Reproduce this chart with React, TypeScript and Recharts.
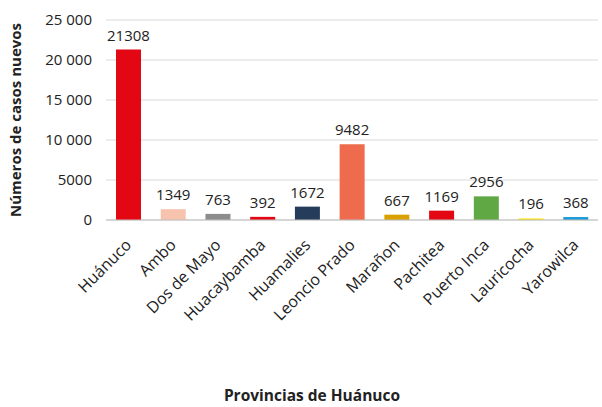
import React from 'react';
import { BarChart, Bar, XAxis, YAxis, CartesianGrid, Cell, LabelList, Label } from 'recharts';

const provincias = ['Huánuco', 'Ambo', 'Dos de Mayo', 'Huacaybamba', 'Huamalies', 'Leoncio Prado', 'Marañon', 'Pachitea', 'Puerto Inca', 'Lauricocha', 'Yarowilca'];
const casos = [21308, 1349, 763, 392, 1672, 9482, 667, 1169, 2956, 196, 368];
const colores = ['#e30613', '#f7c3ae', '#8c8c8c', '#e30613', '#253d5b', '#ee6b4d', '#d9a000', '#e30613', '#60a843', '#ffe600', '#1a9ad6'];
const yTicks = [0, 5000, 10000, 15000, 20000, 25000];

const data = provincias.map((p, i) => ({ provincia: p, casos: casos[i] }));
const font = '"Open Sans", sans-serif';

const fmt = (v: number) => (v >= 10000 ? String(v).replace(/(\d)(?=(\d{3})$)/, '$1 ') : String(v));

function SlantTick({ x, y, payload }: any) {
  const ax = x + 4;
  const ay = y + 18;
  return (
    <text x={ax} y={ay} transform={`rotate(-45, ${ax}, ${ay})`} textAnchor="end" fontSize={16} fill="#222" fontFamily={font}>
      {payload.value}
    </text>
  );
}

export default function App() {
  return (
    <div style={{ position: 'absolute', left: 0, top: 0, width: 602, height: 407, background: '#fff' }}>
      <BarChart width={602} height={407} data={data} margin={{ top: 20, right: 4, left: 0, bottom: 0 }} barSize={25}>
        <CartesianGrid vertical={false} stroke="#d9d9d9" />
        <XAxis dataKey="provincia" interval={0} tickLine={false} stroke="#bfbfbf" height={187} tick={<SlantTick />}>
          <Label value="Provincias de Huánuco" position="insideBottom" offset={6} dx={-40} style={{ fontFamily: font, fontWeight: 700, fontSize: 15.5, fill: '#222' }} />
        </XAxis>
        <YAxis domain={[0, 25000]} ticks={yTicks} tickFormatter={fmt} width={106} axisLine={false} tickLine={false} tickMargin={8}
          tick={{ fontFamily: font, fontSize: 15, fill: '#222' }}>
          <Label value="Números de casos nuevos" angle={-90} position="insideLeft" offset={16} style={{ fontFamily: font, fontWeight: 700, fontSize: 15, fill: '#222', textAnchor: 'middle' }} />
        </YAxis>
        <Bar dataKey="casos" isAnimationActive={false}>
          {data.map((d, i) => (
            <Cell key={d.provincia} fill={colores[i]} />
          ))}
          <LabelList dataKey="casos" position="top" offset={9} style={{ fontFamily: font, fontSize: 15, fill: '#222' }} />
        </Bar>
      </BarChart>
    </div>
  );
}
